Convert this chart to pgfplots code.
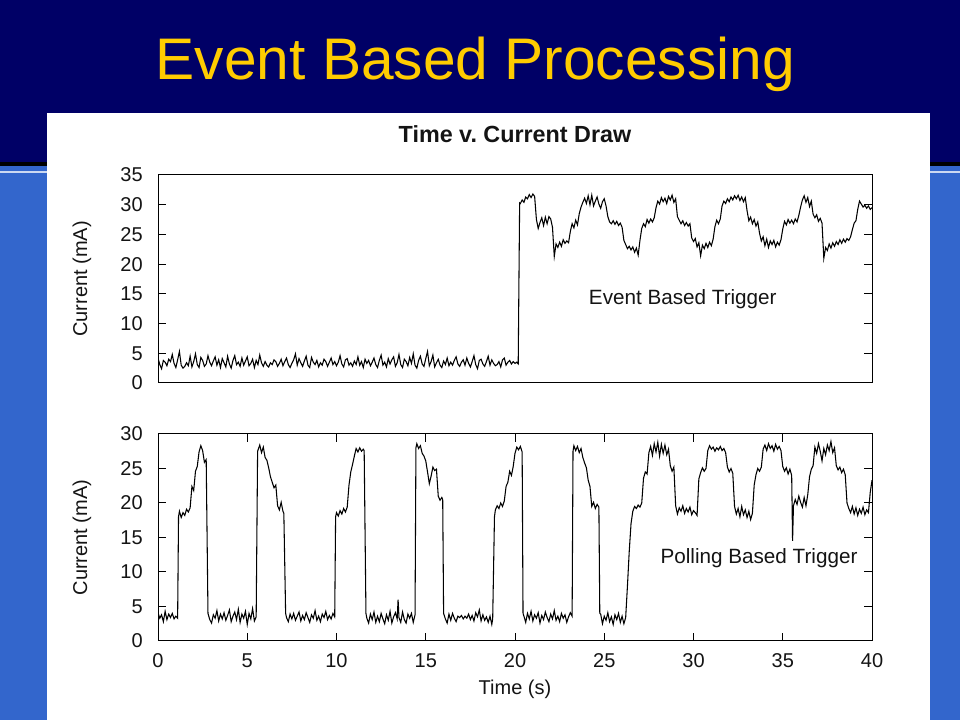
\documentclass[border=0pt]{standalone}
\usepackage{pgfplots}
\pgfplotsset{compat=1.18}
\usepackage{fontspec}
\setmainfont{Liberation Sans}
\frenchspacing

\definecolor{navy}{HTML}{000066}
\definecolor{slideblue}{HTML}{3366CC}
\definecolor{titleyellow}{HTML}{FFCC00}
\definecolor{ink}{HTML}{141414}

\newcommand{\lbl}{\fontsize{15}{18}\selectfont}

\pgfplotsset{
  scope plot/.style={
    scale only axis,
    width=535.5pt,
    xmin=0, xmax=40,
    axis line style={black, line width=0.75pt},
    tick style={black, line width=0.75pt},
    major tick length=6pt,
    tick align=inside,
    ytick pos=both,
    yticklabel pos=left,
    /pgf/number format/assume math mode=true,
    yticklabel style={font=\lbl, text=ink, anchor=east, inner sep=0pt, xshift=-11.25pt},
    xticklabel style={font=\lbl, text=ink, anchor=base, inner sep=0pt, yshift=-20.25pt},
    ylabel style={font=\lbl, text=ink, at={(axis description cs:-0.1064,0.5)}, anchor=center},
  },
  trace/.style={black, line width=0.8pt, mark=none},
}

\begin{document}
\begin{tikzpicture}
\useasboundingbox (0pt,0pt) rectangle (720pt,540pt);
% slide background
\fill[slideblue] (0pt,0pt) rectangle (720pt,540pt);
\fill[navy] (0pt,418.5pt) rectangle (720pt,540pt);
\fill[black] (0pt,415.5pt) rectangle (720pt,418.5pt);
\fill[white!75!slideblue] (0pt,410.6pt) rectangle (720pt,411.4pt);
\fill[white] (35.25pt,0pt) rectangle (697.5pt,455.25pt);
\node[anchor=base, text=titleyellow, font=\fontsize{44}{52}\selectfont]
  at (356.5pt,480pt) {Event Based Processing};

% top panel: event based trigger
\begin{axis}[scope plot,
  at={(118.5pt,252.75pt)}, anchor=south west,
  height=156pt,
  ymin=0, ymax=35, ytick={0,5,...,35},
  xtick=\empty,
  ylabel={Current (mA)},
  title={Time v. Current Draw},
  title style={font=\bfseries\fontsize{17.5}{21}\selectfont, text=ink,
    at={(axis description cs:0.5,1)}, anchor=base, yshift=18.4pt},
]
\addplot[trace] coordinates {
(0.0,4.2)(0.1,3.1)(0.2,2.4)(0.3,3.8)(0.4,3.5)(0.5,2.9)(0.6,4.0)(0.7,3.6)(0.8,4.8)(0.9,3.3)
(1.0,2.6)(1.1,3.9)(1.2,5.3)(1.3,3.0)(1.4,2.5)(1.5,2.8)(1.6,3.4)(1.7,2.9)(1.8,4.5)(1.9,2.7)
(2.0,3.6)(2.1,4.9)(2.2,3.1)(2.3,2.6)(2.4,4.3)(2.5,3.8)(2.6,2.8)(2.7,3.2)(2.8,4.6)(2.9,3.5)
(3.0,2.9)(3.1,3.7)(3.2,4.4)(3.3,3.0)(3.4,3.9)(3.5,2.6)(3.6,4.1)(3.7,3.4)(3.8,2.7)(3.9,4.5)
(4.0,3.2)(4.1,2.5)(4.2,3.8)(4.3,4.6)(4.4,3.1)(4.5,3.5)(4.6,2.8)(4.7,4.2)(4.8,3.0)(4.9,3.7)
(5.0,4.4)(5.1,2.9)(5.2,3.3)(5.3,4.0)(5.4,2.6)(5.5,3.8)(5.6,3.1)(5.7,4.7)(5.8,3.4)(5.9,2.8)
(6.0,3.6)(6.1,3.0)(6.2,2.7)(6.3,3.4)(6.4,3.1)(6.5,3.9)(6.6,3.6)(6.7,2.8)(6.8,3.3)(6.9,4.0)
(7.0,2.9)(7.1,3.6)(7.2,4.2)(7.3,3.1)(7.4,2.6)(7.5,3.3)(7.6,3.9)(7.7,4.9)(7.8,3.0)(7.9,4.1)
(8.0,3.4)(8.1,2.8)(8.2,3.7)(8.3,4.5)(8.4,3.0)(8.5,2.6)(8.6,4.3)(8.7,3.5)(8.8,3.1)(8.9,3.8)
(9.0,2.7)(9.1,3.4)(9.2,3.0)(9.3,4.0)(9.4,3.6)(9.5,2.8)(9.6,3.5)(9.7,4.2)(9.8,3.1)(9.9,3.6)
(10.0,2.9)(10.1,3.5)(10.2,4.6)(10.3,3.2)(10.4,2.7)(10.5,3.9)(10.6,4.1)(10.7,3.0)(10.8,3.4)(10.9,2.8)
(11.0,3.7)(11.1,3.1)(11.2,4.4)(11.3,3.0)(11.4,3.6)(11.5,2.6)(11.6,4.0)(11.7,3.3)(11.8,3.8)(11.9,2.9)
(12.0,3.5)(12.1,4.2)(12.2,3.1)(12.3,2.6)(12.4,3.8)(12.5,4.7)(12.6,3.0)(12.7,3.5)(12.8,2.7)(12.9,4.1)
(13.0,3.2)(13.1,3.9)(13.2,4.4)(13.3,2.8)(13.4,3.4)(13.5,4.8)(13.6,3.1)(13.7,2.6)(13.8,4.0)(13.9,3.6)
(14.0,2.9)(14.1,4.3)(14.2,3.3)(14.3,4.9)(14.4,3.0)(14.5,2.5)(14.6,3.8)(14.7,4.5)(14.8,3.2)(14.9,2.8)
(15.0,4.1)(15.1,5.3)(15.2,2.9)(15.3,3.6)(15.4,4.7)(15.5,2.7)(15.6,3.4)(15.7,4.0)(15.8,3.0)(15.9,2.6)
(16.0,3.7)(16.1,3.1)(16.2,4.2)(16.3,2.9)(16.4,3.5)(16.5,3.0)(16.6,3.8)(16.7,4.4)(16.8,3.2)(16.9,2.8)
(17.0,3.5)(17.1,3.9)(17.2,3.0)(17.3,4.2)(17.4,3.3)(17.5,2.7)(17.6,3.6)(17.7,4.6)(17.8,3.1)(17.9,2.4)
(18.0,3.8)(18.1,4.0)(18.2,3.2)(18.3,2.8)(18.4,3.6)(18.5,4.5)(18.6,3.0)(18.7,3.9)(18.8,3.3)(18.9,2.9)
(19.0,3.1)(19.1,3.6)(19.2,2.7)(19.3,3.9)(19.4,4.2)(19.5,3.0)(19.6,3.5)(19.7,3.8)(19.8,3.2)(19.9,3.6)
(20.0,3.3)(20.1,3.5)(20.18,3.2)(20.22,17.0)(20.26,30.3)
(20.3,30.2)(20.4,30.8)(20.5,30.4)(20.6,31.3)(20.7,31.0)(20.8,31.7)(20.9,31.2)(21.0,31.8)(21.1,31.4)
(21.2,27.5)(21.3,26.0)(21.4,27.0)(21.5,27.8)(21.6,26.5)(21.7,27.9)(21.8,26.8)(21.9,28.0)(22.0,27.6)(22.1,26.2)
(22.2,21.3)(22.3,23.4)(22.4,22.8)(22.5,23.7)(22.6,23.0)(22.7,24.1)(22.8,23.5)(22.9,23.9)(23.0,23.6)(23.1,25.5)
(23.2,26.8)(23.3,26.1)(23.4,27.4)(23.5,26.6)(23.6,28.5)(23.7,29.6)(23.8,30.4)(23.9,31.1)(24.0,30.2)(24.1,31.5)
(24.2,30.0)(24.3,31.6)(24.4,29.8)(24.5,30.6)(24.6,31.3)(24.7,30.1)(24.8,29.4)(24.9,30.5)(25.0,31.0)(25.1,29.8)
(25.2,28.0)(25.3,27.1)(25.4,26.8)(25.5,27.3)(25.6,26.7)(25.7,27.2)(25.8,26.5)(25.9,26.9)(26.0,26.2)(26.1,24.0)
(26.2,23.3)(26.3,22.6)(26.4,23.0)(26.5,22.4)(26.6,22.9)(26.7,22.0)(26.8,22.7)(26.9,21.5)(27.0,24.0)(27.1,26.0)
(27.2,26.8)(27.3,26.3)(27.4,27.5)(27.5,26.9)(27.6,27.6)(27.7,27.1)(27.8,27.8)(27.9,29.5)(28.0,30.6)(28.1,30.1)
(28.2,31.2)(28.3,30.5)(28.4,31.1)(28.5,30.2)(28.6,31.4)(28.7,30.8)(28.8,31.6)(28.9,30.4)(29.0,31.0)(29.1,28.0)
(29.2,27.4)(29.3,26.8)(29.4,27.3)(29.5,26.5)(29.6,27.0)(29.7,26.4)(29.8,26.8)(29.9,24.4)(30.0,23.8)(30.1,24.3)
(30.2,22.9)(30.3,23.6)(30.4,21.4)(30.5,23.2)(30.6,22.6)(30.7,23.5)(30.8,22.8)(30.9,23.7)(31.0,23.1)(31.1,24.2)
(31.2,26.3)(31.3,27.4)(31.4,26.8)(31.5,27.6)(31.6,29.8)(31.7,30.6)(31.8,30.2)(31.9,31.0)(32.0,30.5)(32.1,31.3)
(32.2,30.8)(32.3,31.5)(32.4,31.0)(32.5,31.6)(32.6,30.7)(32.7,31.3)(32.8,30.5)(32.9,31.2)(33.0,29.0)(33.1,27.3)
(33.2,27.9)(33.3,26.8)(33.4,27.5)(33.5,26.4)(33.6,27.1)(33.7,25.2)(33.8,23.9)(33.9,24.6)(34.0,23.1)(34.1,24.2)
(34.2,22.8)(34.3,23.9)(34.4,23.3)(34.5,24.0)(34.6,22.9)(34.7,23.7)(34.8,23.2)(34.9,24.1)(35.0,25.9)(35.1,27.2)
(35.2,26.6)(35.3,27.5)(35.4,26.9)(35.5,27.4)(35.6,26.8)(35.7,27.6)(35.8,27.1)(35.9,28.2)(36.0,29.6)(36.1,30.8)
(36.2,31.5)(36.3,30.4)(36.4,31.2)(36.5,29.7)(36.6,30.6)(36.7,28.4)(36.8,27.8)(36.9,28.3)(37.0,27.2)(37.1,27.7)
(37.2,26.9)(37.3,21.0)(37.4,22.8)(37.5,22.3)(37.6,23.4)(37.7,22.7)(37.8,23.6)(37.9,23.0)(38.0,23.8)(38.1,23.3)
(38.2,24.1)(38.3,23.5)(38.4,24.2)(38.5,23.7)(38.6,24.3)(38.7,24.0)(38.8,24.6)(38.9,25.8)(39.0,26.9)(39.1,27.3)
(39.2,29.2)(39.3,30.6)(39.4,30.1)(39.5,29.6)(39.6,29.9)(39.7,29.4)(39.8,29.8)(39.9,29.2)(40.0,29.5)
};
\node[font=\fontsize{15.5}{18}\selectfont, text=ink] at (axis cs:29.4,14.1) {Event Based Trigger};
\end{axis}

% bottom panel: polling based trigger
\begin{axis}[scope plot,
  at={(118.5pt,59.25pt)}, anchor=south west,
  height=155.25pt,
  ymin=0, ymax=30, ytick={0,5,...,30},
  xtick={0,5,...,40},
  xtick pos=both, xticklabel pos=bottom,
  ylabel={Current (mA)},
  xlabel={Time (s)},
  xlabel style={font=\lbl, text=ink, at={(axis description cs:0.5,0)}, anchor=base, yshift=-40.5pt},
]
\addplot[trace] coordinates {
(0.0,4.1)(0.1,3.3)(0.2,3.8)(0.3,2.8)(0.4,4.3)(0.5,3.1)(0.6,3.9)(0.7,3.4)(0.8,4.0)(0.9,3.2)(1.0,3.6)(1.1,3.3)
(1.15,18.0)(1.2,18.8)(1.3,17.9)(1.4,18.6)(1.5,18.2)(1.6,19.1)(1.7,18.7)(1.8,19.3)(1.9,22.4)(2.0,21.8)
(2.1,24.6)(2.2,25.3)(2.3,27.4)(2.4,28.3)(2.5,27.6)(2.6,25.9)(2.7,26.3)(2.8,4.0)
(2.9,3.1)(3.0,2.6)(3.1,3.8)(3.2,3.3)(3.3,4.4)(3.4,2.9)(3.5,3.9)(3.6,3.2)(3.7,4.1)(3.8,3.0)(3.9,3.7)
(4.0,4.5)(4.1,2.8)(4.2,3.6)(4.3,4.2)(4.4,3.1)(4.5,4.6)(4.6,2.7)(4.7,3.9)(4.8,3.3)(4.9,4.3)
(5.0,2.4)(5.1,4.0)(5.2,3.2)(5.3,4.7)(5.4,2.9)(5.5,3.5)(5.58,27.5)
(5.7,28.4)(5.8,27.3)(5.9,28.1)(6.0,26.6)(6.1,26.2)(6.2,25.1)(6.3,23.8)(6.4,23.0)(6.5,22.2)(6.6,22.6)
(6.7,19.6)(6.8,19.0)(6.9,20.1)(7.0,18.8)(7.05,18.5)(7.15,4.0)
(7.2,3.4)(7.3,2.8)(7.4,3.9)(7.5,3.2)(7.6,4.0)(7.7,3.0)(7.8,3.6)(7.9,4.2)(8.0,2.9)(8.1,3.7)
(8.2,3.1)(8.3,4.1)(8.4,3.4)(8.5,2.7)(8.6,3.8)(8.7,3.3)(8.8,4.4)(8.9,3.0)(9.0,3.6)(9.1,2.8)
(9.2,3.9)(9.3,3.4)(9.4,4.3)(9.5,3.1)(9.6,3.7)(9.7,3.2)(9.8,4.0)(9.9,3.5)
(9.95,18.0)(10.0,18.6)(10.1,18.1)(10.2,18.9)(10.3,18.4)(10.4,19.2)(10.5,18.7)(10.6,19.4)(10.7,22.6)(10.8,24.5)
(10.9,25.6)(11.0,26.8)(11.1,27.9)(11.2,27.4)(11.3,28.0)(11.4,27.5)(11.5,27.8)(11.55,27.6)(11.65,4.0)
(11.7,3.3)(11.8,2.6)(11.9,3.9)(12.0,3.1)(12.1,4.2)(12.2,2.7)(12.3,3.6)(12.4,2.8)(12.5,4.0)(12.6,3.2)
(12.7,2.5)(12.8,3.8)(12.9,3.0)(13.0,4.3)(13.1,2.6)(13.2,3.5)(13.3,4.1)(13.4,3.2)(13.45,6.0)(13.5,3.4)
(13.6,2.7)(13.7,4.2)(13.8,3.1)(13.9,2.6)(14.0,3.9)(14.1,3.3)(14.2,4.0)(14.3,2.7)(14.4,3.8)
(14.45,28.0)(14.5,28.6)(14.6,27.9)(14.7,28.3)(14.8,27.2)(14.9,26.8)(15.0,26.1)(15.1,24.5)(15.2,22.8)(15.3,23.9)
(15.4,25.2)(15.5,24.7)(15.6,24.9)(15.7,21.0)(15.8,20.4)(15.9,20.8)(15.95,20.5)(16.0,4.0)
(16.1,3.2)(16.2,2.6)(16.3,3.9)(16.4,3.0)(16.5,4.0)(16.6,3.3)(16.7,2.8)(16.8,3.6)(16.9,3.4)(17.0,3.7)
(17.1,3.2)(17.2,3.6)(17.3,3.3)(17.4,3.9)(17.5,3.1)(17.6,3.7)(17.7,2.9)(17.8,4.1)(17.9,3.5)(18.0,4.5)
(18.1,2.9)(18.2,3.8)(18.3,3.0)(18.4,3.5)(18.5,2.7)(18.6,3.6)(18.7,2.4)(18.75,3.2)
(18.85,18.0)(18.9,19.0)(19.0,19.6)(19.1,19.2)(19.2,20.0)(19.3,19.5)(19.4,20.3)(19.5,22.4)(19.6,23.0)(19.7,24.6)
(19.8,24.0)(19.9,25.3)(20.0,27.2)(20.1,28.1)(20.2,27.7)(20.3,28.2)(20.4,27.4)(20.45,4.0)
(20.5,3.6)(20.6,2.7)(20.7,4.0)(20.8,3.2)(20.9,4.3)(21.0,2.9)(21.1,3.8)(21.2,3.3)(21.3,4.1)(21.4,2.6)
(21.5,3.7)(21.6,3.1)(21.7,4.2)(21.8,3.4)(21.9,2.8)(22.0,3.9)(22.1,3.2)(22.2,4.4)(22.3,3.0)(22.4,3.6)
(22.5,2.8)(22.6,4.0)(22.7,3.3)(22.8,3.8)(22.9,2.7)(23.0,3.5)(23.1,4.1)(23.2,3.6)
(23.25,27.5)(23.3,28.3)(23.4,27.6)(23.5,28.2)(23.6,27.3)(23.7,27.9)(23.8,26.6)(23.9,25.8)(24.0,25.1)(24.1,23.3)
(24.2,22.4)(24.3,19.5)(24.4,20.1)(24.5,19.2)(24.6,19.8)(24.7,19.4)(24.75,4.0)
(24.8,3.9)(24.9,2.5)(25.0,3.6)(25.1,3.0)(25.2,4.1)(25.3,2.8)(25.4,3.5)(25.5,2.4)(25.6,3.8)(25.7,3.1)
(25.8,4.0)(25.9,2.7)(26.0,3.6)(26.1,2.5)(26.2,3.4)
(26.3,8.0)(26.4,13.0)(26.5,17.0)(26.6,18.8)(26.7,19.5)(26.8,19.2)(26.9,19.7)(27.0,19.4)(27.1,20.0)(27.2,23.6)
(27.3,24.5)(27.4,24.2)(27.5,27.3)(27.6,28.2)(27.7,26.9)(27.8,28.6)(27.9,27.4)(28.0,28.8)(28.1,26.8)(28.2,28.5)
(28.3,27.2)(28.4,28.4)(28.5,27.0)(28.6,27.8)(28.7,25.4)(28.8,24.6)(28.9,25.2)(29.0,19.6)(29.1,18.4)(29.2,19.3)
(29.3,18.8)(29.4,19.6)(29.5,18.5)(29.6,19.2)(29.7,18.7)(29.8,19.4)(29.9,18.3)(30.0,18.9)(30.1,18.6)(30.2,18.2)
(30.3,23.5)(30.4,24.4)(30.5,25.1)(30.6,24.6)(30.7,25.0)(30.8,27.6)(30.9,28.3)(31.0,27.8)(31.1,28.1)(31.2,27.5)
(31.3,28.0)(31.4,27.7)(31.5,28.2)(31.6,27.6)(31.7,27.9)(31.8,27.3)(31.9,25.2)(32.0,24.5)(32.1,25.0)(32.2,24.3)
(32.3,19.5)(32.4,18.4)(32.5,19.2)(32.6,18.0)(32.7,19.5)(32.8,18.3)(32.9,19.0)(33.0,17.9)(33.1,18.8)(33.2,17.6)
(33.3,18.5)(33.4,22.6)(33.5,24.1)(33.6,25.0)(33.7,24.6)(33.8,25.2)(33.9,27.8)(34.0,28.4)(34.1,27.6)(34.2,28.6)
(34.3,27.9)(34.4,28.3)(34.5,27.5)(34.6,28.5)(34.7,27.8)(34.8,28.2)(34.9,27.6)(35.0,25.3)(35.1,24.6)(35.2,25.1)
(35.3,24.2)(35.4,24.9)(35.5,24.0)(35.55,14.5)(35.6,19.6)(35.7,20.5)(35.8,19.8)(35.9,21.0)(36.0,20.1)(36.1,19.4)
(36.2,20.8)(36.3,19.6)(36.4,21.2)(36.5,23.8)(36.6,24.9)(36.7,25.4)(36.8,28.1)(36.9,27.2)(37.0,28.6)(37.1,27.5)
(37.2,26.1)(37.3,27.9)(37.4,27.0)(37.5,28.4)(37.6,27.6)(37.7,28.9)(37.8,27.3)(37.9,28.0)(38.0,25.4)(38.1,24.8)
(38.2,25.2)(38.3,24.4)(38.4,24.9)(38.5,24.1)(38.6,20.0)(38.7,19.2)(38.8,18.6)(38.9,19.5)(39.0,18.4)(39.1,19.3)
(39.2,18.2)(39.3,19.1)(39.4,18.5)(39.5,19.4)(39.6,18.3)(39.7,19.0)(39.8,18.6)(39.9,21.5)(40.0,23.3)
};
\node[font=\fontsize{15.5}{18}\selectfont, text=ink] at (axis cs:33.67,12.0) {Polling Based Trigger};
\end{axis}
\end{tikzpicture}
\end{document}
